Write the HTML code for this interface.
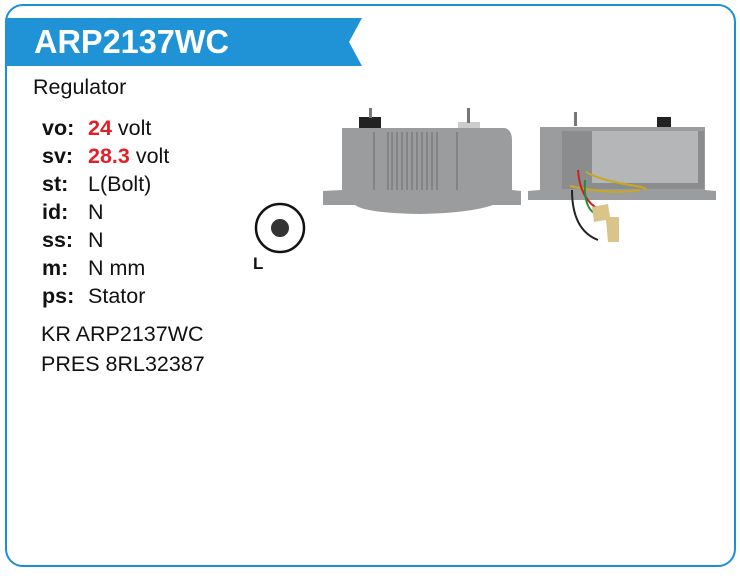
<!DOCTYPE html>
<html><head><meta charset="utf-8"><style>
html,body{margin:0;padding:0;background:#fff;}
body{width:740px;height:576px;position:relative;overflow:hidden;font-family:"Liberation Sans",Arial,sans-serif;}
.frame{position:absolute;left:5px;top:4px;width:727px;height:559px;border:2px solid #1a8fd6;border-radius:18px;}
.t{position:absolute;font-size:21.5px;line-height:24px;color:#111;white-space:nowrap;}
.l{font-weight:bold;}
.r{color:#e31e24;font-weight:bold;}
</style></head><body>
<div class="frame"></div>
<svg style="position:absolute;left:0;top:0" width="740" height="576">
<polygon points="6,18 362,18 349,42 362,66 6,66" fill="#1f93d6"/>
<text x="34" y="53" fill="#fff" font-family="Liberation Sans,Arial,sans-serif" font-weight="bold" font-size="33" textLength="195" lengthAdjust="spacingAndGlyphs">ARP2137WC</text>
<g>
<rect x="359" y="117" width="22" height="14" fill="#222"/>
<rect x="369" y="108" width="3" height="10" fill="#777"/>
<rect x="458" y="122" width="22" height="8" fill="#ccc"/>
<rect x="467" y="108" width="3" height="15" fill="#777"/>
<path d="M342,128 L505,128 Q512,130 512,140 L512,190 L521,191 L521,205 L493,205 Q470,213 420,214 Q365,213 355,205 L323,205 L323,191 L342,190 Z" fill="#9a9c9e"/>
<g stroke="#7a7c7e" stroke-width="1.5">
<line x1="374" y1="132" x2="374" y2="190"/><line x1="388" y1="132" x2="388" y2="190"/><line x1="392" y1="132" x2="392" y2="190"/><line x1="397" y1="132" x2="397" y2="190"/><line x1="402" y1="132" x2="402" y2="190"/><line x1="407" y1="132" x2="407" y2="190"/><line x1="412" y1="132" x2="412" y2="190"/><line x1="417" y1="132" x2="417" y2="190"/><line x1="422" y1="132" x2="422" y2="190"/><line x1="427" y1="132" x2="427" y2="190"/><line x1="432" y1="132" x2="432" y2="190"/><line x1="437" y1="132" x2="437" y2="190"/><line x1="457" y1="132" x2="457" y2="190"/>
</g>
</g>
<g>
<rect x="574" y="112" width="3" height="14" fill="#777"/>
<rect x="657" y="117" width="14" height="10" fill="#222"/>
<path d="M540,127 L705,127 L705,190 L716,191 L716,200 L528,200 L528,191 L540,190 Z" fill="#9a9c9e"/>
<rect x="562" y="131" width="142" height="58" fill="#8a8c8e"/>
<rect x="592" y="131" width="106" height="52" fill="#b4b6b8"/>
<path d="M586,172 Q600,180 630,185 Q650,188 645,190" stroke="#c9a820" stroke-width="2" fill="none"/>
<path d="M570,186 Q610,195 640,190" stroke="#c9a820" stroke-width="2" fill="none"/>
<path d="M578,170 Q580,200 600,210" stroke="#cc2020" stroke-width="2" fill="none"/>
<path d="M572,190 Q572,230 598,240" stroke="#222" stroke-width="2" fill="none"/>
<path d="M585,180 Q583,210 598,215" stroke="#2a8a3a" stroke-width="2" fill="none"/>
<path d="M592,207 L608,204 L610,217 L619,217 L619,242 L608,242 L606,220 L594,222 Z" fill="#d9c48a"/>
</g>
<circle cx="280" cy="228" r="24" fill="none" stroke="#111" stroke-width="2.5"/>
<circle cx="280" cy="228" r="9" fill="#333"/>
<text x="253" y="269" font-family="Liberation Sans,Arial,sans-serif" font-weight="bold" font-size="17" fill="#111">L</text>
</svg>
<div class="t" style="left:33px;top:75px;">Regulator</div>
<div class="t l" style="left:42px;top:116px;">vo:</div><div class="t" style="left:88px;top:116px;"><span class="r">24</span> volt</div>
<div class="t l" style="left:42px;top:144px;">sv:</div><div class="t" style="left:88px;top:144px;"><span class="r">28.3</span> volt</div>
<div class="t l" style="left:42px;top:172px;">st:</div><div class="t" style="left:88px;top:172px;">L(Bolt)</div>
<div class="t l" style="left:42px;top:200px;">id:</div><div class="t" style="left:88px;top:200px;">N</div>
<div class="t l" style="left:42px;top:228px;">ss:</div><div class="t" style="left:88px;top:228px;">N</div>
<div class="t l" style="left:42px;top:256px;">m:</div><div class="t" style="left:88px;top:256px;">N mm</div>
<div class="t l" style="left:42px;top:284px;">ps:</div><div class="t" style="left:88px;top:284px;">Stator</div>
<div class="t" style="left:41px;top:322px;">KR ARP2137WC</div>
<div class="t" style="left:41px;top:352px;">PRES 8RL32387</div>
</body></html>
